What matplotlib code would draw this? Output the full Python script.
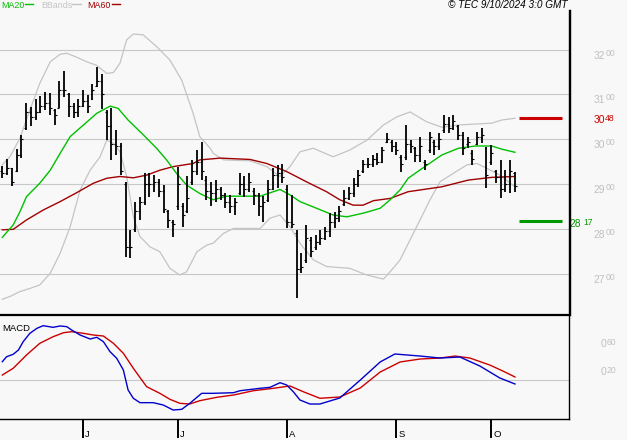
import numpy as np
import matplotlib
matplotlib.use("Agg")
import matplotlib.pyplot as plt
import matplotlib.transforms as mtransforms
from matplotlib.lines import Line2D

plt.rcParams['font.family'] = ['Liberation Sans', 'DejaVu Sans']

# daily OHLC bars, oldest first
highs = [2940, 2955, 2937, 2978, 3009, 3080, 3073, 3089, 3097, 3106,
         3104, 3067, 3131, 3152, 3103, 3080, 3091, 3110, 3099, 3123,
         3162, 3146, 3065, 3069, 3021, 2991, 2905, 2798, 2861, 2872,
         2924, 2924, 2920, 2911, 2898, 2842, 2820, 2939, 2857, 2917,
         2954, 2975, 2995, 2917, 2905, 2909, 2894, 2880, 2876, 2868,
         2924, 2917, 2924, 2891, 2880, 2873, 2909, 2935, 2943, 2945,
         2898, 2876, 2798, 2746, 2809, 2783, 2786, 2798, 2805, 2835,
         2838, 2850, 2887, 2894, 2913, 2931, 2954, 2958, 2965, 2969,
         2983, 3013, 2998, 2995, 2965, 3032, 2998, 2983, 3006, 2954,
         3017, 2998, 3013, 3054, 3050, 3054, 3032, 3017, 3006, 2976,
         3017, 3025, 2983, 2987, 2931, 2954, 2931, 2954, 2928]
lows = [2914, 2920, 2896, 2928, 2958, 3021, 3030, 3043, 3059, 3065,
        3054, 3033, 3069, 3095, 3050, 3047, 3049, 3073, 3059, 3088,
        3117, 3067, 2998, 2954, 2965, 2920, 2738, 2736, 2794, 2820,
        2853, 2872, 2883, 2872, 2835, 2801, 2783, 2842, 2805, 2835,
        2898, 2920, 2909, 2865, 2850, 2861, 2865, 2846, 2835, 2831,
        2876, 2872, 2883, 2853, 2829, 2816, 2861, 2887, 2891, 2902,
        2801, 2801, 2645, 2701, 2723, 2738, 2753, 2764, 2775, 2783,
        2801, 2816, 2850, 2865, 2872, 2894, 2924, 2935, 2939, 2943,
        2946, 2991, 2972, 2965, 2928, 2954, 2969, 2950, 2950, 2931,
        2969, 2965, 2976, 3013, 3013, 3021, 2998, 2965, 2980, 2943,
        2987, 2991, 2891, 2943, 2902, 2868, 2883, 2880, 2883]
opens = [2930, 2925, 2935, 2930, 2965, 3025, 3060, 3050, 3060, 3075,
         3080, 3065, 3070, 3110, 3100, 3075, 3060, 3075, 3085, 3090,
         3120, 3130, 3060, 3030, 2990, 2985, 2900, 2760, 2800, 2840,
         2860, 2900, 2900, 2905, 2885, 2840, 2815, 2850, 2850, 2840,
         2905, 2930, 2950, 2910, 2885, 2880, 2890, 2875, 2860, 2850,
         2880, 2900, 2890, 2885, 2875, 2850, 2865, 2890, 2920, 2925,
         2890, 2815, 2790, 2710, 2730, 2775, 2760, 2770, 2780, 2795,
         2815, 2825, 2855, 2870, 2880, 2900, 2930, 2945, 2945, 2955,
         2950, 2995, 2995, 2985, 2960, 2960, 2990, 2980, 2965, 2950,
         2975, 2995, 2985, 3020, 3035, 3025, 3030, 3010, 2990, 2970,
         2990, 3005, 2980, 2950, 2930, 2915, 2890, 2900, 2925]
closes = [2925, 2935, 2905, 2965, 3000, 3060, 3050, 3060, 3075, 3080,
          3070, 3055, 3110, 3110, 3075, 3060, 3075, 3085, 3075, 3110,
          3130, 3100, 3030, 2990, 2985, 2930, 2760, 2760, 2840, 2860,
          2900, 2900, 2905, 2885, 2845, 2820, 2810, 2900, 2830, 2870,
          2930, 2950, 2930, 2885, 2880, 2890, 2875, 2860, 2850, 2860,
          2900, 2890, 2905, 2875, 2850, 2860, 2890, 2920, 2925, 2915,
          2815, 2810, 2710, 2715, 2780, 2750, 2770, 2780, 2795, 2815,
          2825, 2840, 2870, 2880, 2900, 2920, 2945, 2945, 2955, 2950,
          2975, 3000, 2985, 2975, 2945, 2990, 2985, 2965, 2985, 2945,
          3005, 2985, 3000, 3035, 3025, 3040, 3010, 2980, 2995, 2955,
          3005, 3010, 2920, 2970, 2915, 2890, 2900, 2930, 2895]

# overlays (bar index, price)
ma20_x = [0, 2.3, 3.7, 5.1, 7.9, 10.1, 12.2, 14.3, 17.1, 19.9, 22.7, 24.4, 26.5,
          29.7, 32.5, 34.6, 36.7, 38.8, 41.6, 44.4, 47.3, 54.3, 55.7, 58.5, 60.6,
          62.7, 66.2, 69.7, 72.6, 76.0, 79.6, 81.7, 83.8, 85.5, 89.0, 92.6, 96.1,
          99.6, 103.1, 105.2, 108]
ma20 = [2781, 2809, 2838, 2872, 2902, 2931, 2969, 3006, 3032, 3058, 3074, 3069, 3043,
        3010, 2980, 2954, 2924, 2898, 2879, 2865, 2873, 2873, 2878, 2888, 2876,
        2861, 2846, 2831, 2827, 2835, 2846, 2865, 2887, 2913, 2939, 2965, 2980,
        2985, 2985, 2978, 2971]
ma60_x = [0, 2.3, 5.1, 8.6, 12.2, 15.7, 19.2, 22.0, 24.8, 27.6, 30.4, 33.2, 36.0,
          40.2, 41.6, 45.9, 52.2, 55.7, 59.9, 64.1, 68.3, 71.1, 73.9, 76.0, 78.2,
          81.7, 85.5, 92.6, 98.2, 103.1, 108]
ma60 = [2798, 2799, 2820, 2842, 2861, 2881, 2902, 2913, 2917, 2914, 2920, 2931, 2939,
        2946, 2954, 2958, 2955, 2946, 2928, 2905, 2883, 2865, 2853, 2853, 2863,
        2868, 2883, 2894, 2909, 2915, 2917]
bb_up_x = [0, 1.6, 3.7, 5.8, 7.9, 10.1, 12.2, 13.6, 15.7, 17.8, 19.9, 22.0, 23.4,
           24.8, 26.2, 27.6, 29.7, 32.5, 35.3, 37.8, 40.2, 41.6, 43.8, 44.4, 46.6,
           52.2, 55.7, 58.5, 60.6, 62.7, 65.5, 69.7, 73.2, 76.8, 80.3, 83.1, 85.9,
           89.4, 92.6, 96.1, 99.6, 103.1, 105.2, 108]
bb_up = [2943, 2961, 3002, 3065, 3125, 3173, 3190, 3192, 3183, 3173, 3165, 3147, 3149,
         3170, 3222, 3235, 3233, 3207, 3177, 3132, 3058, 3006, 2980, 2969, 2954,
         2952, 2939, 2917, 2939, 2972, 2980, 2961, 2976, 2998, 3032, 3050, 3061,
         3039, 3027, 3032, 3034, 3036, 3043, 3047]
bb_lo_x = [0, 1.6, 3.7, 5.8, 7.9, 10.1, 12.2, 14.3, 16.4, 18.5, 20.6, 22.0, 23.4,
           24.8, 26.2, 27.6, 29.0, 31.1, 33.2, 35.3, 37.4, 38.8, 41.0, 43.1, 44.4,
           46.6, 48.7, 54.3, 56.4, 58.5, 60.6, 62.7, 65.5, 68.3, 73.2, 76.8, 80.3,
           82.0, 83.8, 88.0, 90.1, 92.2, 95.0, 97.9, 100.0, 102.1, 104.8, 108]
bb_lo = [2643, 2649, 2660, 2667, 2675, 2701, 2746, 2805, 2887, 2931, 2961, 2998, 2991,
         2972, 2917, 2827, 2783, 2760, 2749, 2712, 2697, 2704, 2749, 2764, 2768,
         2790, 2801, 2801, 2824, 2831, 2805, 2768, 2731, 2716, 2712, 2697, 2688,
         2708, 2731, 2820, 2865, 2905, 2924, 2943, 2946, 2935, 2920, 2894]

# MACD panel (bar index, value)
macd_x = [0, 0.9, 2.3, 3.4, 4.4, 5.8, 7.3, 8.6, 10.7, 12.2, 13.6, 14.6, 16.4, 18.5,
          19.9, 21.3, 22.7, 24.1, 25.5, 26.5, 27.6, 29.0, 31.8, 33.9, 36.0, 37.8,
          39.5, 42.0, 44.4, 48.7, 50.1, 54.3, 56.4, 58.5, 59.9, 61.3, 62.7, 64.8,
          66.9, 71.1, 75.4, 79.6, 82.7, 88.0, 92.2, 96.4, 100.6, 104.8, 108]
macd = [0.26, 0.33, 0.365, 0.425, 0.543, 0.661, 0.732, 0.769, 0.746, 0.765, 0.755,
        0.708, 0.637, 0.581, 0.605, 0.543, 0.401, 0.308, 0.143, -0.14, -0.257, -0.319,
        -0.319, -0.352, -0.423, -0.413, -0.328, -0.187, -0.187, -0.178, -0.15, -0.116,
        -0.102, -0.037, -0.069, -0.164, -0.281, -0.338, -0.338, -0.253, 0.0, 0.256,
        0.369, 0.34, 0.312, 0.326, 0.199, 0.03, -0.055]
signal_x = [0, 2.3, 5.1, 7.9, 10.7, 12.9, 14.6, 17.1, 19.2, 21.3, 23.4, 25.5, 27.6,
            30.4, 33.2, 35.3, 37.4, 39.5, 41.6, 45.2, 48.7, 52.9, 57.1, 60.6, 63.4,
            66.9, 71.1, 75.4, 79.6, 83.8, 88.0, 92.2, 95.4, 98.5, 102.7, 105.9, 108]
signal = [0.072, 0.167, 0.355, 0.52, 0.613, 0.67, 0.684, 0.661, 0.637, 0.623, 0.52,
          0.379, 0.167, -0.093, -0.187, -0.271, -0.328, -0.338, -0.291, -0.243, -0.211,
          -0.15, -0.116, -0.083, -0.164, -0.257, -0.239, -0.112, 0.114, 0.256, 0.298,
          0.312, 0.34, 0.312, 0.213, 0.114, 0.044]

price_grid = [2700, 2800, 2900, 3000, 3100, 3200]
macd_labels = [0.20, 0.60]
month_idx = [17, 37, 60, 83, 103]
month_lbl = ['J', 'J', 'A', 'S', 'O']
last_high = 3048
last_low = 2817

BG = '#f8f8f8'
GRID = '#c8c8c8'

fig = plt.figure(figsize=(6.27, 4.40), dpi=100, facecolor=BG)
ax = fig.add_axes([0, 125 / 440, 569 / 627, 305 / 440], facecolor=BG)
ax2 = fig.add_axes([0, 21 / 440, 569 / 627, 104 / 440], facecolor=BG)

xlim = (-0.485, 119.38)
for a in (ax, ax2):
    a.set_xlim(*xlim)
    a.set_yticks([])
    a.spines['left'].set_visible(False)
    a.spines['right'].set_linewidth(1.0)
ax.set_xticks([])
ax.spines['top'].set_visible(False)
ax.spines['bottom'].set_visible(False)
ax.set_ylim(2607.8, 3288.6)
ax2.set_ylim(-0.5498, 0.9201)
ax2.spines['top'].set_linewidth(1.6)
ax2.spines['bottom'].set_linewidth(1.0)

# price panel
for p in price_grid:
    ax.axhline(p, color=GRID, lw=0.8, zorder=0)

ax.plot(bb_up_x, bb_up, color='#c4c4c4', lw=0.9, zorder=1)
ax.plot(bb_lo_x, bb_lo, color='#c4c4c4', lw=0.9, zorder=1)
ax.plot(ma60_x, ma60, color='#a00000', lw=1.0, zorder=2)
ax.plot(ma20_x, ma20, color='#00c000', lw=1.0, zorder=2)

x = np.arange(len(highs))
ax.vlines(x, lows, highs, color='black', lw=1.3, zorder=3)
ax.hlines(opens, x - 0.42, x, color='black', lw=0.8, zorder=3)
ax.hlines(closes, x, x + 0.42, color='black', lw=0.8, zorder=3)

ax.hlines([last_high], 108.85, 117.9, color='#cc0000', lw=2.2)
ax.hlines([last_low], 108.85, 117.9, color='#009900', lw=2.2)

tr = mtransforms.blended_transform_factory(ax.transAxes, ax.transData)
for p in price_grid:
    s = str(p)
    ax.text(594 / 569, p - 20, s[:2], transform=tr, fontsize=7.4, color='#c0c0c0',
            va='baseline', ha='left')
    ax.text(606 / 569, p - 13, s[2:], transform=tr, fontsize=6.2, color='#c0c0c0',
            va='baseline', ha='left')
s = str(last_high)
ax.text(594 / 569, last_high - 11, s[:2], transform=tr, fontsize=7.4, color='#cc0000', va='baseline')
ax.text(605 / 569, last_high - 7, s[2:], transform=tr, fontsize=6.2, color='#cc0000', va='baseline')
s = str(last_low)
ax.text(570 / 569, last_low - 12, s[:2], transform=tr, fontsize=7.4, color='#009900', va='baseline')
ax.text(583 / 569, last_low - 9, s[2:], transform=tr, fontsize=6.2, color='#009900', va='baseline')

# MACD panel
ax2.axhline(0, color=GRID, lw=0.8, zorder=0)
ax2.plot(signal_x, signal, color='#cc0000', lw=1.0)
ax2.plot(macd_x, macd, color='#0000cc', lw=1.0)
ax2.text(2.7 / 569, 0.849, 'MACD', transform=ax2.transAxes, fontsize=6.8, va='baseline')

tr2 = mtransforms.blended_transform_factory(ax2.transAxes, ax2.transData)
for v in macd_labels:
    s = '%.2f' % v
    ax2.text(601 / 569, v - 0.133, s[0], transform=tr2, fontsize=7.4, color='#c0c0c0', va='baseline')
    ax2.text(607 / 569, v - 0.105, s[2:], transform=tr2, fontsize=6.2, color='#c0c0c0', va='baseline')

ax2.set_xticks(month_idx)
ax2.tick_params(axis='x', direction='out', length=13.7, width=1.4, colors='black',
                labelbottom=False)
trd = mtransforms.blended_transform_factory(ax2.transData, fig.transFigure)
for i, lab in zip(month_idx, month_lbl):
    ax2.text(i + 0.42, 1 - 437 / 440, lab, transform=trd, fontsize=6.8, va='baseline',
             ha='left', clip_on=False)

# header
def fy(ypix):
    return 1 - ypix / 440

fig.text(1 / 627, fy(8.3), 'MA20', fontsize=6.4, color='#00c000', va='baseline')
fig.add_artist(Line2D([25 / 627, 33 / 627], [fy(4.3)] * 2, color='#00c000', lw=1.0))
fig.text(41 / 627, fy(8.3), 'BBands', fontsize=6.4, color='#c4c4c4', va='baseline')
fig.add_artist(Line2D([72 / 627, 81 / 627], [fy(4.3)] * 2, color='#c4c4c4', lw=1.0))
fig.text(87 / 627, fy(8.3), 'MA60', fontsize=6.4, color='#a00000', va='baseline')
fig.add_artist(Line2D([112 / 627, 120 / 627], [fy(4.3)] * 2, color='#a00000', lw=1.0))
fig.text(448 / 627, fy(8.3), '\u00a9 TEC 9/10/2024 3:0 GMT', fontsize=7.2,
         style='italic', va='baseline')
fig.add_artist(Line2D([569.5 / 627] * 2, [fy(10), fy(315)], color='black', lw=1.0))

fig.savefig('out.png', dpi=100, facecolor=BG)
